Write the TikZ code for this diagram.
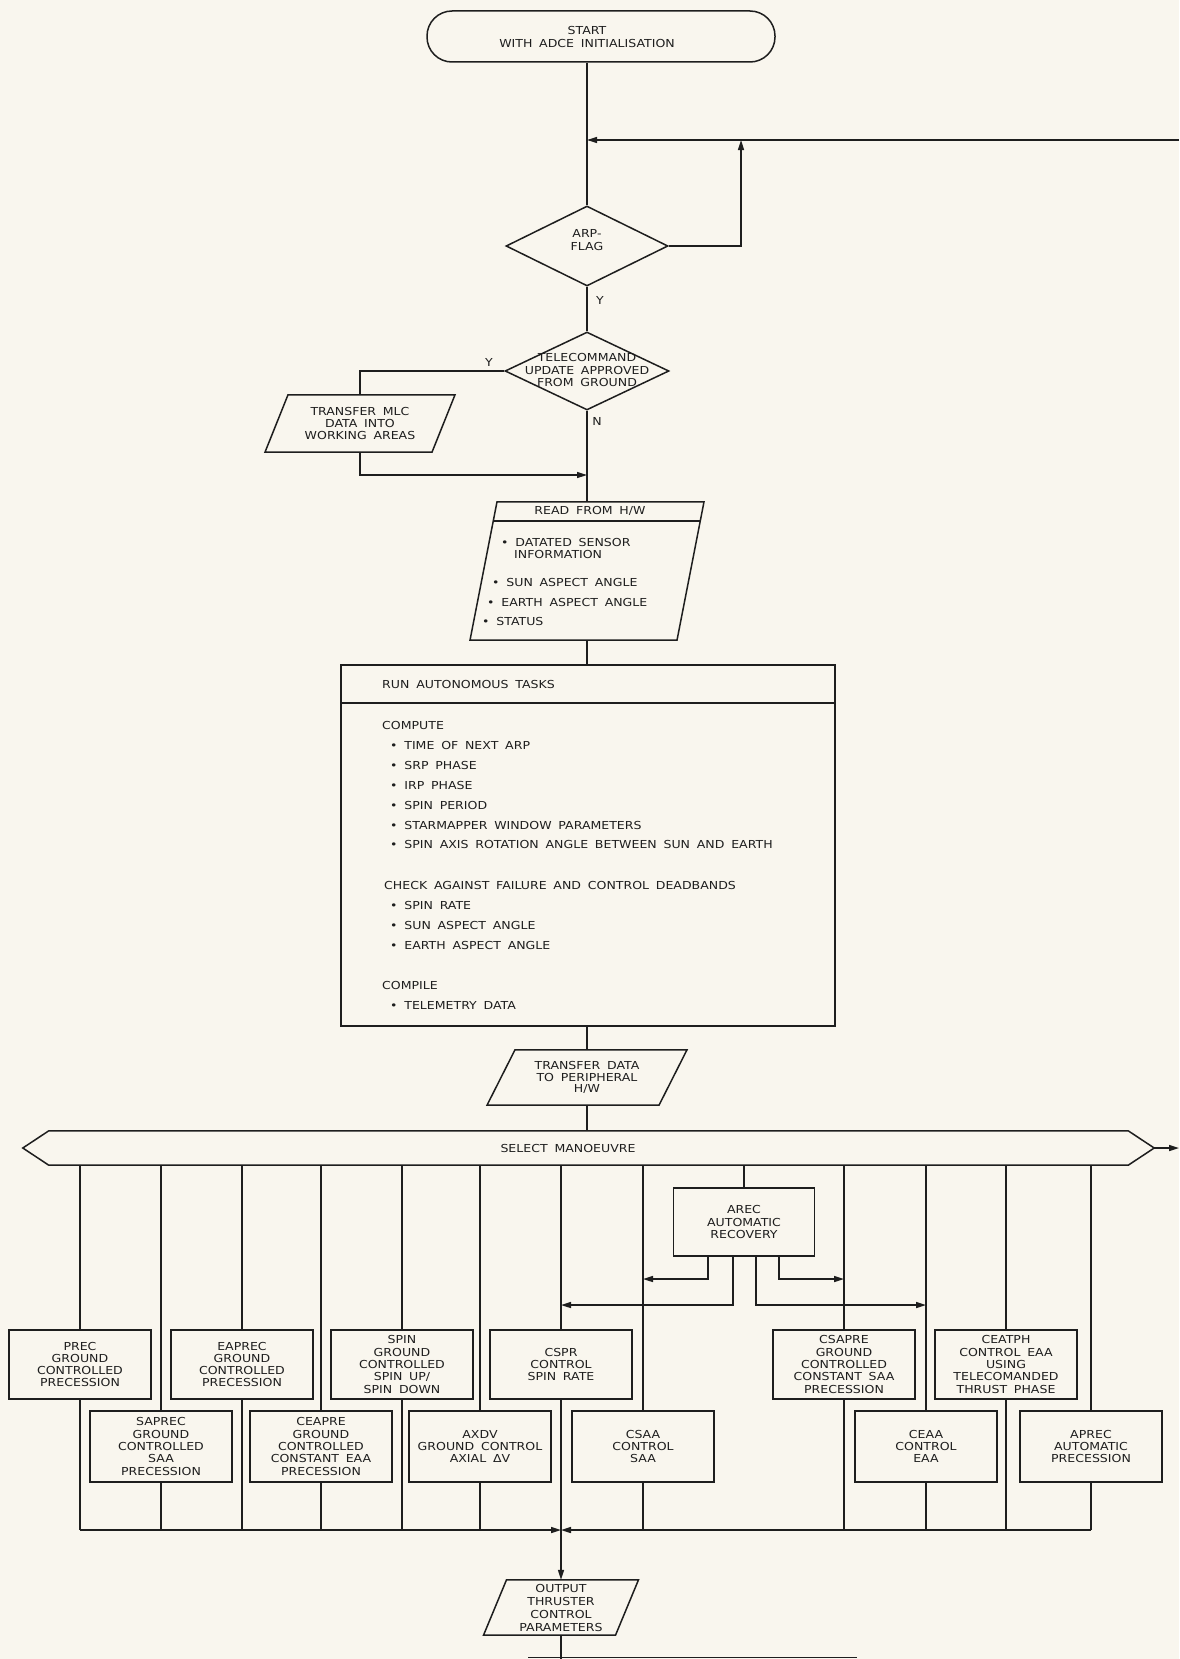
\documentclass[tikz,border=0pt]{standalone}
\usepackage{fontspec}
\setmainfont{DejaVu Sans}[FakeStretch=1.14,WordSpace=1.7]
\usetikzlibrary{shapes.geometric,arrows.meta,calc}
\definecolor{ink}{RGB}{30,30,30}
\definecolor{paper}{RGB}{249,246,238}
\newcommand\mypgram[3]{\draw[line] ($(#1.north)+(-#2+#3/2,0)$) -- ($(#1.north)+(#2+#3/2,0)$) -- ($(#1.south)+(#2-#3/2,0)$) -- ($(#1.south)+(-#2-#3/2,0)$) -- cycle;}
\tikzset{
  line/.style={draw=ink, line width=1.5pt},
  arr/.style={line, -{Triangle[length=10pt,width=6pt]}},
  tx/.style={font=\fontsize{11}{12.3}\selectfont, text=ink, inner sep=0pt, align=center},
  it/.style={font=\fontsize{11}{12.3}\selectfont, text=ink, inner sep=0pt, anchor=west, text height=8pt, text depth=0pt},
  mbox/.style={line, tx, minimum width=142pt, minimum height=69pt},
  dia/.style={diamond, line, aspect=2, inner sep=0pt}
}
\begin{document}
\begin{tikzpicture}[x=1pt,y=-1pt]
\fill[paper] (0,0) rectangle (1179,1659);
\useasboundingbox (0,0) rectangle (1179,1659);

% start
\node[line, rounded corners=25pt, minimum width=348pt, minimum height=51pt] (start) at (601,36.5) {};
\node[tx, font=\fontsize{11}{13}\selectfont] (starttext) at (587,36.5) {START\\WITH ADCE INITIALISATION};

% ARP flag
\node[dia, minimum width=162pt, minimum height=80pt] (arp) at (587,246) {};
\node[tx] (arptext) at (587,240) {ARP-\\FLAG};
\draw[line] (arp.north |- start.south) -- (arp.north);
\coordinate (loopR) at (1179,140);
\coordinate (loopJ) at (741,140);
\draw[arr] (arp.east) -| (loopJ);
\draw[arr] (loopR) -- (arp.north |- loopR);
\node[tx] (ylab) at (600,300) {Y};

% telecommand
\node[dia, minimum width=164pt, minimum height=78pt] (tc) at (587,371) {};
\node[tx] (tctext) at (587,370) {TELECOMMAND\\UPDATE APPROVED\\FROM GROUND};
\draw[line] (arp.south) -- (tc.north);
\node[tx] (ylab2) at (489,362) {Y};
\node[tx] (nlab) at (597,421) {N};

% transfer MLC
\node[tx, minimum height=57pt, minimum width=140pt] (mlc) at (360,423.5) {TRANSFER MLC\\DATA INTO\\WORKING AREAS};
\mypgram{mlc}{83.5}{23}
\draw[line] (tc.west) -| (mlc.north);
\coordinate (mj) at (587,475);
\draw[arr] (mlc.south) |- (mj);

% read from H/W
\node[tx, minimum height=138pt, minimum width=180pt] (rd) at (587,571) {};
\mypgram{rd}{103.5}{27}
\draw[line] (tc.south) -- (rd.north);
\coordinate (rdsl) at (493.3,521);
\coordinate (rdsr) at (700.3,521);
\draw[line] (rdsl) -- (rdsr);
\node[tx] (rdh) at (590,511) {READ FROM H/W};
\node[it] (rd1) at (501,542) {• DATATED SENSOR};
\node[it] (rd2) at (514,554) {INFORMATION};
\node[it] (rd3) at (492,582) {• SUN ASPECT ANGLE};
\node[it] (rd4) at (487,602) {• EARTH ASPECT ANGLE};
\node[it] (rd5) at (482,621) {• STATUS};

% run autonomous tasks
\node[line, minimum width=494pt, minimum height=361pt, inner sep=0pt] (run) at (588,845.5) {};
\draw[line] (rd.south) -- (rd.south |- run.north);
\coordinate (rsep) at (0,703);
\draw[line] (run.west |- rsep) -- (run.east |- rsep);
\node[it] (r0) at (382,684) {RUN AUTONOMOUS TASKS};
\node[it] (r1) at (382,725) {COMPUTE};
\node[it] (r2) at (390,745) {• TIME OF NEXT ARP};
\node[it] (r3) at (390,765) {• SRP PHASE};
\node[it] (r4) at (390,785) {• IRP PHASE};
\node[it] (r5) at (390,805) {• SPIN PERIOD};
\node[it] (r6) at (390,825) {• STARMAPPER WINDOW PARAMETERS};
\node[it] (r7) at (390,844) {• SPIN AXIS ROTATION ANGLE BETWEEN SUN AND EARTH};
\node[it] (r8) at (384,885) {CHECK AGAINST FAILURE AND CONTROL DEADBANDS};
\node[it] (r9) at (390,905) {• SPIN RATE};
\node[it] (r10) at (390,925) {• SUN ASPECT ANGLE};
\node[it] (r11) at (390,945) {• EARTH ASPECT ANGLE};
\node[it] (r12) at (382,985) {COMPILE};
\node[it] (r13) at (390,1005) {• TELEMETRY DATA};

% transfer data
\node[tx, minimum height=55pt, minimum width=140pt, font=\fontsize{11}{11.8}\selectfont] (td) at (587,1077.5) {TRANSFER DATA\\TO PERIPHERAL\\H/W};
\mypgram{td}{86}{28}
\draw[line] (td.north |- run.south) -- (td.north);

% select manoeuvre
\node[minimum width=1131pt, minimum height=34pt, inner sep=0pt] (sel) at (588.5,1148) {};
\draw[line] (sel.west) -- ($(sel.north west)+(26,0)$) -- ($(sel.north east)+(-26,0)$) -- (sel.east) -- ($(sel.south east)+(-26,0)$) -- ($(sel.south west)+(26,0)$) -- cycle;
\node[tx] (seltext) at (568,1148) {SELECT MANOEUVRE};
\draw[line] (td.south) -- (td.south |- sel.north);
\coordinate (selout) at (1179,1148);
\draw[arr] (sel.east) -- (selout);

% row 1
\node[mbox] (prec) at (80,1364.5) {PREC\\GROUND\\CONTROLLED\\PRECESSION};
\node[mbox] (eaprec) at (242,1364.5) {EAPREC\\GROUND\\CONTROLLED\\PRECESSION};
\node[mbox] (spin) at (402,1364.5) {SPIN\\GROUND\\CONTROLLED\\SPIN UP/\\SPIN DOWN};
\node[mbox] (cspr) at (561,1364.5) {CSPR\\CONTROL\\SPIN RATE};
\node[mbox] (csapre) at (844,1364.5) {CSAPRE\\GROUND\\CONTROLLED\\CONSTANT SAA\\PRECESSION};
\node[mbox] (ceatph) at (1006,1364.5) {CEATPH\\CONTROL EAA\\USING\\TELECOMANDED\\THRUST PHASE};
% row 2
\node[mbox, minimum height=71pt] (saprec) at (161,1446.5) {SAPREC\\GROUND\\CONTROLLED\\SAA\\PRECESSION};
\node[mbox, minimum height=71pt] (ceapre) at (321,1446.5) {CEAPRE\\GROUND\\CONTROLLED\\CONSTANT EAA\\PRECESSION};
\node[mbox, minimum height=71pt] (axdv) at (480,1446.5) {AXDV\\GROUND CONTROL\\AXIAL ΔV};
\node[mbox, minimum height=71pt] (csaa) at (643,1446.5) {CSAA\\CONTROL\\SAA};
\node[mbox, minimum height=71pt] (ceaa) at (926,1446.5) {CEAA\\CONTROL\\EAA};
\node[mbox, minimum height=71pt] (aprec) at (1091,1446.5) {APREC\\AUTOMATIC\\PRECESSION};

\coordinate (coll) at (561,1530);
\foreach \b in {prec,eaprec,spin,cspr,csapre,ceatph,saprec,ceapre,axdv,csaa,ceaa,aprec}{
  \draw[line] (\b.north |- sel.south) -- (\b.north);
  \draw[line] (\b.south) -- (\b.south |- coll);
}

% automatic recovery
\node[mbox, minimum width=141pt, minimum height=68pt] (arec) at (744,1222) {AREC\\AUTOMATIC\\RECOVERY};
\draw[line] (arec.north |- sel.south) -- (arec.north);
\coordinate (lvA) at (0,1279);
\coordinate (lvB) at (0,1305);
\draw[arr] ($(arec.south)+(-36,0)$) |- (csaa.north |- lvA);
\draw[arr] ($(arec.south)+(-11,0)$) |- (cspr.north |- lvB);
\draw[arr] ($(arec.south)+(12,0)$) |- (ceaa.north |- lvB);
\draw[arr] ($(arec.south)+(35,0)$) |- (csapre.north |- lvA);

% collector and output
\draw[arr] (prec.south |- coll) -- (coll);
\draw[arr] (aprec.south |- coll) -- (coll);
\node[tx, minimum height=55pt, minimum width=110pt, font=\fontsize{11}{13}\selectfont] (out) at (561,1607.5) {OUTPUT\\THRUSTER\\CONTROL\\PARAMETERS};
\mypgram{out}{66}{23}
\draw[arr] (coll) -- (out.north);
\coordinate (bot) at (561,1659);
\draw[line] (out.south) -- (bot);
\coordinate (cutL) at (528,1657.5);
\coordinate (cutR) at (857,1657.5);
\draw[line] (cutL) -- (cutR);
\end{tikzpicture}
\end{document}
